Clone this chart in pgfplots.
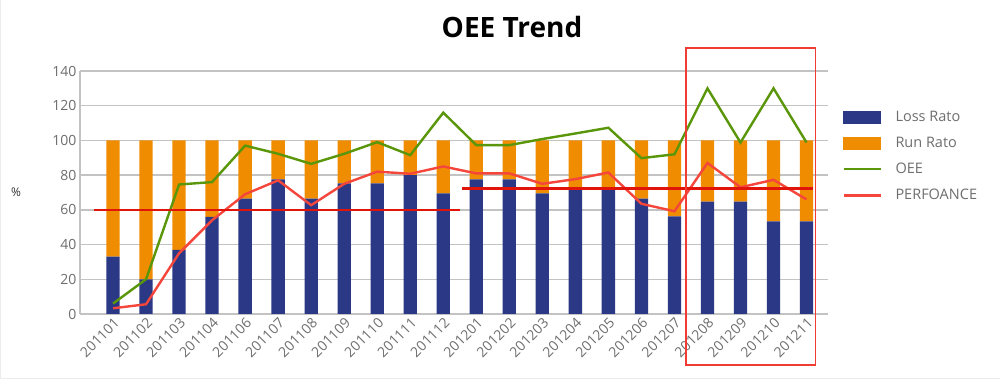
\documentclass[border=0pt]{standalone}
\usepackage{fontspec}
\setmainfont{Open Sans}
\usepackage{pgfplots}
\pgfplotsset{compat=1.18}
\usepackage{pgfplotstable}

\definecolor{lossc}{RGB}{42,56,134}
\definecolor{runc}{RGB}{240,140,0}
\definecolor{oeec}{RGB}{90,150,10}
\definecolor{perfc}{RGB}{245,70,60}
\definecolor{hlinec}{RGB}{225,20,10}
\definecolor{boxc}{RGB}{240,60,50}
\definecolor{gridc}{RGB}{195,195,195}
\definecolor{textc}{RGB}{110,110,110}

\pgfplotstableread{
x loss run oee perf
0 33 67 6 3.3
1 20 80 20 5.6
2 37 63 74.6 35
3 56 44 76 54
4 66.5 33.5 97 69
5 77.5 22.5 92.3 77
6 66.5 33.5 86.5 62.7
7 75.2 24.8 92.3 75
8 75.2 24.8 99 82
9 80 20 91.5 80.8
10 69.5 30.5 116 85
11 77.5 22.5 97.3 81
12 77.5 22.5 97.3 81
13 69.5 30.5 100.8 75
14 71.5 28.5 104 77.7
15 71.5 28.5 107.3 81.5
16 66.5 33.5 89.8 63.5
17 56.2 43.8 92 59.2
18 64.8 35.2 130 87
19 64.8 35.2 98.8 73
20 53.3 46.7 130 77.3
21 53.3 46.7 98.8 66
}\data

\pgfplotsset{
  base/.style={
    scale only axis, width=748pt, height=243pt,
    at={(0pt,0pt)}, anchor=south west,
    xmin=-1, xmax=21.65, ymin=0, ymax=140,
    xtick={0,...,21},
    xticklabels={201101,201102,201103,201104,201106,201107,201108,201109,201110,201111,201112,201201,201202,201203,201204,201205,201206,201207,201208,201209,201210,201211},
    ytick={0,20,...,140},
    /pgf/number format/assume math mode=true,
    tick label style={font=\fontsize{14}{16}\selectfont, text=textc},
    x tick label style={rotate=45, anchor=north east, inner sep=2pt},
    axis x line*=bottom, axis y line*=left,
    axis line style={gridc, line width=1.5pt},
    major tick length=0pt,
    clip=false,
  }
}

\begin{document}
\begin{tikzpicture}[x=1pt,y=1pt]
\path[use as bounding box] (-80,-65) rectangle (920,314);
\fill[white] (-80,-65) rectangle (920,314);
\draw[gray!15, line width=1.2pt] (-79.4,314) -- (-79.4,-64.4) -- (920,-64.4);

\begin{axis}[base,
  ybar stacked, bar width=13.3pt,
  ymajorgrids, major grid style={gridc, line width=1.5pt},
]
\addplot[fill=lossc, draw=none] table[x=x,y=loss]{\data};
\addplot[fill=runc, draw=none] table[x=x,y=run]{\data};
\end{axis}

\begin{axis}[base,
  xticklabels={}, yticklabels={}, axis line style={draw=none},
  legend style={draw=none, fill=none, at={(axis description cs:1.0187,0.845)}, anchor=north west,
    font=\fontsize{14.5}{17}\selectfont, text=textc, row sep=10.3pt, inner sep=0pt},
  legend cell align=left,
]
\addlegendimage{legend image code/.code={\fill[lossc] (0pt,-6pt) rectangle (37pt,6pt); \path[draw=none,fill=none] (0pt,0pt) -- (50pt,0pt);}}
\addlegendentry{Loss Rato}
\addlegendimage{legend image code/.code={\fill[runc] (0pt,-6pt) rectangle (37pt,6pt); \path[draw=none,fill=none] (0pt,0pt) -- (50pt,0pt);}}
\addlegendentry{Run Rato}
\addplot[oeec, line width=2.4pt, line join=miter, mark=none,
  legend image code/.code={\draw[oeec, line width=2.6pt] (0pt,0pt) -- (37pt,0pt); \path[draw=none,fill=none] (0pt,0pt) -- (50pt,0pt);}]
  table[x=x,y=oee]{\data};
\addlegendentry{OEE}
\addplot[perfc, line width=2.4pt, mark=none,
  legend image code/.code={\draw[perfc, line width=2.6pt] (0pt,0pt) -- (37pt,0pt); \path[draw=none,fill=none] (0pt,0pt) -- (50pt,0pt);}]
  table[x=x,y=perf]{\data};
\addlegendentry{PERFOANCE}
\addplot[hlinec, line width=2.6pt, forget plot] coordinates {(-0.58,60) (10.5,60)};
\addplot[hlinec, line width=2.6pt, forget plot] coordinates {(10.57,72.3) (21.2,72.3)};
\draw[boxc, line width=1.8pt] (axis cs:17.36,153.2) rectangle (axis cs:21.27,-29.4);
\end{axis}

\node[font=\fontsize{28}{34}\selectfont\bfseries, text=black] at (432,287) {OEE Trend};
\node[font=\fontsize{12}{14}\selectfont, text=black!80] at (-64,122) {\%};
\end{tikzpicture}
\end{document}
